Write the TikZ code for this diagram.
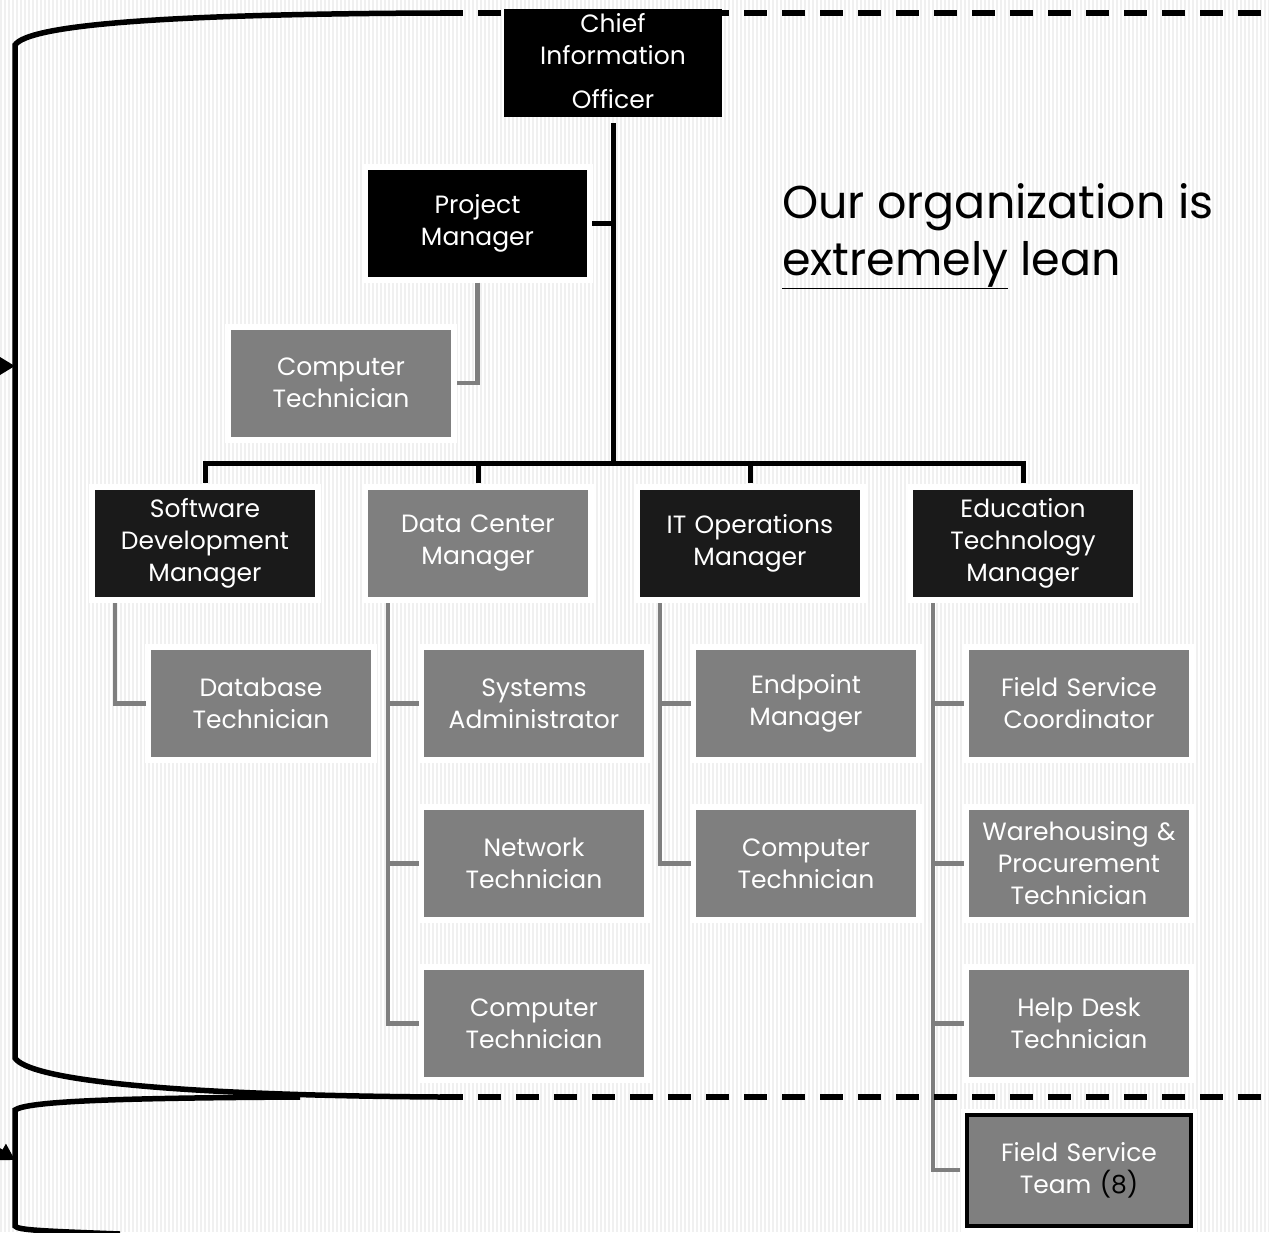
\documentclass[tikz,border=0pt]{standalone}
\usepackage{fontspec}
\setmainfont{Poppins}
\usetikzlibrary{arrows.meta}

\definecolor{bossblack}{HTML}{1A1A1A}
\definecolor{staffgray}{HTML}{7F7F7F}
\definecolor{stripegray}{HTML}{F0F0F0}

\begin{document}
\begin{tikzpicture}[x=1pt, y=-1pt,
        box/.style={rectangle, inner sep=0pt, minimum width=220pt, minimum height=107pt,
            text width=216pt, align=center, text=white, font=\fontsize{25}{32}\selectfont},
        halo/.style={preaction={draw=white, line width=12pt}},
        boss/.style={box, halo, fill=bossblack},
        staff/.style={box, halo, fill=staffgray},
        bossline/.style={black, line width=5pt},
        staffline/.style={staffgray, line width=4.5pt},
        bracket/.style={black, line width=5.5pt},
        stripe/.style={stripegray, line width=1.4pt}]

    \useasboundingbox (0,0) rectangle (1269,1232);
    \clip (0,0) rectangle (1269,1232);

    % background
    \fill[white] (0,0) rectangle (1269,1232);
    \foreach \x in {1,5,...,1269}
        \draw[stripe] (\x,0) -- (\x,1232);

    % brackets on the left
    \draw[bracket] (440,13) .. controls (150,14) and (28,26) .. (15,45) -- (15,1058)
        .. controls (28,1078) and (150,1095) .. (440,1097);
    \draw[bracket, dash pattern=on 23pt off 15pt] (440,13) -- (1269,13);
    \draw[bracket] (300,1097) .. controls (120,1098) and (28,1101) .. (15,1110) -- (15,1226)
        .. controls (18,1230) and (40,1231) .. (120,1234);
    \draw[bracket, -{Triangle[length=16pt,width=18pt]}] (-40,366) -- (15,366);
    \draw[bracket, -{Triangle[length=16pt,width=18pt]}] (-30,1134) -- (15,1160);

    % top
    \node[box, fill=black, minimum width=218pt, minimum height=108pt] (cio) at (613,63) {};
    \begin{scope}
        \clip (cio.north west) rectangle (cio.south east);
        \node[box] (ciotext) at (613,61) {Chief\\Information\\[12pt]Officer};
    \end{scope}
    \node[boss, fill=black, minimum width=219pt] (pm) at (477.5,223) {Project\\Manager};
    \node[staff] (ct0) at (341,383) {Computer\\Technician};

    % managers
    \node[boss] (sdm) at (205,543.5) {Software\\Development\\Manager};
    \node[staff] (dcm) at (478,543.5) {Data Center\\Manager};
    \node[boss] (ito) at (750,543.5) {IT Operations\\Manager};
    \node[boss] (etm) at (1023,543.5) {Education\\Technology\\Manager};

    % staff
    \node[staff] (db) at (261,703.5) {Database\\Technician};
    \node[staff] (sa) at (534,703.5) {Systems\\Administrator};
    \node[staff] (nt) at (534,863.5) {Network\\Technician};
    \node[staff] (ct1) at (534,1023.5) {Computer\\Technician};
    \node[staff] (ep) at (806,703.5) {Endpoint\\Manager};
    \node[staff] (ct2) at (806,863.5) {Computer\\Technician};
    \node[staff] (fsc) at (1079,703.5) {Field Service\\Coordinator};
    \node[staff] (wpt) at (1079,863.5) {Warehousing \&\\Procurement\\Technician};
    \node[staff] (hdt) at (1079,1023.5) {Help Desk\\Technician};
    \node[staff, draw=black, line width=4pt, minimum width=224pt, minimum height=111pt] (fst)
        at (1079,1170) {Field Service\\Team {\color{black}(8)}};

    % connectors
    \coordinate (bus) at (613,463);
    \draw[bossline] ([yshift=-6pt]cio.south) -- (bus);
    \draw[bossline] ([xshift=5pt]pm.east) -- (pm.east -| bus);
    \foreach \m in {sdm,dcm,ito,etm}
        \draw[bossline] (bus) -| ([yshift=7pt]\m.north);
    \draw[staffline] ([yshift=-6pt]pm.south) |- ([xshift=6pt]ct0.east);
    \foreach \m/\s in {sdm/db, dcm/sa, dcm/nt, dcm/ct1, ito/ep, ito/ct2,
                       etm/fsc, etm/wpt, etm/hdt, etm/fst}
        \draw[staffline] ([xshift=-90pt,yshift=-6pt]\m.south) |- ([xshift=-5pt]\s.west);

    \draw[bracket, dash pattern=on 23pt off 15pt] (440,1097) -- (1269,1097);

    \node[anchor=west, align=left, inner sep=0pt, font=\fontsize{46}{57}\selectfont]
        (lean) at (782,236) {Our organization is\\\underline{extremely} lean};
\end{tikzpicture}
\end{document}
